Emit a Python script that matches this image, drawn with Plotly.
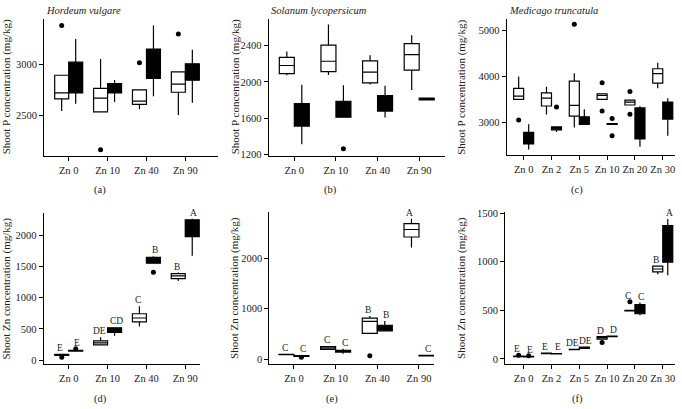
import plotly.graph_objects as go

W, H = 682, 409

CATS_4 = ["Zn 0", "Zn 10", "Zn 40", "Zn 90"]
CATS_6 = ["Zn 0", "Zn 2", "Zn 5", "Zn 10", "Zn 20", "Zn 30"]

# ---------------- Panel (a): Hordeum vulgare, shoot P ----------------
A_WHITE = dict(lo=[2542, 2532, 2558, 2500], q1=[2662, 2532, 2607, 2727],
               med=[2721, 2669, 2640, 2808], q3=[2896, 2766, 2750, 2929],
               hi=[2896, 3058, 2750, 2929])
A_BLACK = dict(lo=[2614, 2630, 2688, 2623], q1=[2721, 2721, 2864, 2847],
               med=[2850, 2770, 3000, 2920], q3=[3026, 2812, 3156, 3010],
               hi=[3256, 2850, 3390, 3150])
A_OUT_W_CAT = ["Zn 0", "Zn 10", "Zn 40", "Zn 90"]
A_OUT_W_VAL = [3390, 2155, 3020, 3305]
A_OUT_B_CAT = []
A_OUT_B_VAL = []

# ---------------- Panel (b): Solanum lycopersicum, shoot P ----------------
B_WHITE = dict(lo=[2072, 2076, 1971, 1910], q1=[2090, 2112, 1989, 2130],
               med=[2180, 2227, 2108, 2299], q3=[2270, 2404, 2231, 2422],
               hi=[2335, 2631, 2292, 2512])
B_BLACK = dict(lo=[1315, 1611, 1607, 1796], q1=[1514, 1611, 1679, 1802],
               med=[1640, 1700, 1760, 1812], q3=[1762, 1787, 1849, 1823],
               hi=[1968, 1964, 1957, 1828])
B_OUT_W_CAT = []
B_OUT_W_VAL = []
B_OUT_B_CAT = ["Zn 10"]
B_OUT_B_VAL = [1265]

# ---------------- Panel (c): Medicago truncatula, shoot P ----------------
C_WHITE = dict(lo=[3498, 3171, 2886, 3498, 3377, 3740], q1=[3498, 3356, 3135, 3498, 3377, 3854],
               med=[3569, 3527, 3370, 3584, 3441, 4061], q3=[3740, 3641, 3897, 3619, 3484, 4167],
               hi=[3997, 3776, 4068, 3619, 3484, 4295])
C_BLACK = dict(lo=[2409, 2790, 2950, 2950, 2466, 2708], q1=[2530, 2836, 2957, 2955, 2637, 3071],
               med=[2650, 2870, 3040, 2965, 2980, 3250], q3=[2780, 2900, 3121, 2975, 3313, 3441],
               hi=[2957, 2910, 3285, 2980, 3349, 3527])
C_OUT_W_CAT = ["Zn 0", "Zn 5", "Zn 10", "Zn 10", "Zn 20", "Zn 20"]
C_OUT_W_VAL = [3050, 5135, 3861, 3249, 3669, 3178]
C_OUT_B_CAT = ["Zn 2", "Zn 10", "Zn 10"]
C_OUT_B_VAL = [3335, 3086, 2708]

# ---------------- Panel (d): Hordeum vulgare, shoot Zn ----------------
D_WHITE = dict(lo=[75, 245, 538, 1264], q1=[75, 245, 611, 1305],
               med=[85, 277, 674, 1347], q3=[92, 308, 742, 1384],
               hi=[95, 366, 862, 1400])
D_BLACK = dict(lo=[140, 392, 1551, 1671], q1=[145, 444, 1551, 1974],
               med=[150, 480, 1600, 2100], q3=[157, 517, 1645, 2245],
               hi=[160, 527, 1660, 2261])
D_OUT_W_CAT = ["Zn 0"]
D_OUT_W_VAL = [45]
D_OUT_B_CAT = ["Zn 0", "Zn 40"]
D_OUT_B_VAL = [183, 1405]
D_LET_W = ["E", "DE", "C", "B"]
D_LET_B = ["E", "CD", "B", "A"]

# ---------------- Panel (e): Solanum lycopersicum, shoot Zn ----------------
E_WHITE = dict(lo=[85, 194, 511, 2213], q1=[88, 194, 511, 2420],
               med=[91, 226, 751, 2569], q3=[95, 252, 815, 2686],
               hi=[98, 252, 854, 2783])
E_BLACK = dict(lo=[50, 110, 563, 65], q1=[55, 142, 563, 68],
               med=[62, 155, 620, 71], q3=[70, 175, 673, 75],
               hi=[75, 207, 757, 78])
E_OUT_W_CAT = ["Zn 40"]
E_OUT_W_VAL = [71]
E_OUT_B_CAT = ["Zn 0"]
E_OUT_B_VAL = [40]
E_LET_W = ["C", "C", "B", "A"]
E_LET_B = ["C", "C", "B", "C"]

# ---------------- Panel (f): Medicago truncatula, shoot Zn ----------------
F_WHITE = dict(lo=[22, 54, 95, 205, 490, 871], q1=[24, 55, 96, 205, 495, 895],
               med=[27, 57, 98, 222, 498, 925], q3=[30, 59, 100, 229, 500, 955],
               hi=[32, 60, 101, 229, 505, 955])
F_BLACK = dict(lo=[21, 51, 104, 229, 450, 861], q1=[22, 52, 108, 230, 465, 995],
               med=[24, 54, 114, 232, 500, 1180], q3=[26, 56, 122, 234, 560, 1372],
               hi=[28, 57, 124, 236, 580, 1439])
F_OUT_W_CAT = ["Zn 0", "Zn 10", "Zn 20"]
F_OUT_W_VAL = [37, 168, 588]
F_OUT_B_CAT = ["Zn 0"]
F_OUT_B_VAL = [34]
F_LET_W = ["E", "E", "DE", "D", "C", "B"]
F_LET_B = ["E", "E", "DE", "D", "C", "A"]

P_TITLE = "Shoot P concentration (mg/kg)"
ZN_TITLE = "Shoot Zn concentration (mg/kg)"

# ---------------- layout geometry (pixels) ----------------
PANELS = [
    dict(tag="(a)", species="Hordeum vulgare", cats=CATS_4, white=A_WHITE, black=A_BLACK,
         ow=(A_OUT_W_CAT, A_OUT_W_VAL), ob=(A_OUT_B_CAT, A_OUT_B_VAL), lw=None, lb=None,
         ytitle=P_TITLE, px=(44, 218), py=(15, 155), xr=(-0.635, 3.84), yr=(2094, 3458), dt=500,
         ytx=6, tagx=100, tagy=190),
    dict(tag="(b)", species="Solanum lycopersicum", cats=CATS_4, white=B_WHITE, black=B_BLACK,
         ow=(B_OUT_W_CAT, B_OUT_W_VAL), ob=(B_OUT_B_CAT, B_OUT_B_VAL), lw=None, lb=None,
         ytitle=P_TITLE, px=(268.5, 445), py=(15, 155), xr=(-0.62, 3.62), yr=(1185, 2695), dt=400,
         ytx=235, tagx=330, tagy=190),
    dict(tag="(c)", species="Medicago truncatula", cats=CATS_6, white=C_WHITE, black=C_BLACK,
         ow=(C_OUT_W_CAT, C_OUT_W_VAL), ob=(C_OUT_B_CAT, C_OUT_B_VAL), lw=None, lb=None,
         ytitle=P_TITLE, px=(506.7, 675), py=(15, 154), xr=(-0.61, 5.44), yr=(2289, 5256), dt=1000,
         ytx=462, tagx=577, tagy=190),
    dict(tag="(d)", species=None, cats=CATS_4, white=D_WHITE, black=D_BLACK,
         ow=(D_OUT_W_CAT, D_OUT_W_VAL), ob=(D_OUT_B_CAT, D_OUT_B_VAL), lw=D_LET_W, lb=D_LET_B,
         ytitle=ZN_TITLE, px=(43.5, 200), py=(213, 367.3), xr=(-0.65, 3.38), yr=(-63, 2356), dt=500,
         ytx=6, tagx=100, tagy=403),
    dict(tag="(e)", species=None, cats=CATS_4, white=E_WHITE, black=E_BLACK,
         ow=(E_OUT_W_CAT, E_OUT_W_VAL), ob=(E_OUT_B_CAT, E_OUT_B_VAL), lw=E_LET_W, lb=E_LET_B,
         ytitle=ZN_TITLE, px=(269.3, 434), py=(212, 367.3), xr=(-0.59, 3.36), yr=(-97, 2918), dt=1000,
         ytx=235, tagx=332, tagy=403),
    dict(tag="(f)", species=None, cats=CATS_6, white=F_WHITE, black=F_BLACK,
         ow=(F_OUT_W_CAT, F_OUT_W_VAL), ob=(F_OUT_B_CAT, F_OUT_B_VAL), lw=F_LET_W, lb=F_LET_B,
         ytitle=ZN_TITLE, px=(505, 675), py=(212, 367.3), xr=(-0.67, 5.44), yr=(-53, 1513), dt=500,
         ytx=462, tagx=577, tagy=403),
]

FONT = "Liberation Serif"
OFF = 0.18
BW = 0.36

fig = go.Figure()
annotations = []
layout = {}

for i, p in enumerate(PANELS):
    n = i + 1
    xa = "x" if n == 1 else f"x{n}"
    ya = "y" if n == 1 else f"y{n}"
    cats = p["cats"]
    idx = list(range(len(cats)))
    for series, off, fill in ((p["white"], -OFF, "white"), (p["black"], OFF, "black")):
        fig.add_trace(go.Box(
            x=[k + off for k in idx], q1=series["q1"], median=series["med"], q3=series["q3"],
            lowerfence=series["lo"], upperfence=series["hi"], width=BW,
            fillcolor=fill, line=dict(color="black", width=1.2), whiskerwidth=0,
            boxpoints=False, showlegend=False, xaxis=xa, yaxis=ya, hoverinfo="skip"))
    for (ocats, ovals), off in ((p["ow"], -OFF), (p["ob"], OFF)):
        if ocats:
            fig.add_trace(go.Scatter(
                x=[cats.index(c) + off for c in ocats], y=ovals, mode="markers",
                marker=dict(color="black", size=5), showlegend=False,
                xaxis=xa, yaxis=ya, hoverinfo="skip"))
    # significance letters
    for letters, series, ocs, off, xs in ((p["lw"], p["white"], p["ow"], -OFF, -1.5),
                                          (p["lb"], p["black"], p["ob"], OFF, 1.5)):
        if not letters:
            continue
        for k, L in enumerate(letters):
            top = series["hi"][k]
            for c, v in zip(*ocs):
                if cats.index(c) == k:
                    top = max(top, v)
            annotations.append(dict(x=k + off, y=top, xref=xa, yref=ya, text=L,
                                    showarrow=False, yanchor="bottom", yshift=0, xshift=xs,
                                    borderpad=0,
                                    font=dict(family=FONT, size=9.5, color="#222")))
    axis_common = dict(showline=True, linecolor="black", linewidth=1, ticks="outside",
                       ticklen=4, tickcolor="black", showgrid=False, zeroline=False,
                       tickfont=dict(family=FONT, size=10.5, color="#222"))
    layout["xaxis" if n == 1 else f"xaxis{n}"] = dict(
        domain=[p["px"][0] / W, p["px"][1] / W], range=list(p["xr"]), anchor=ya,
        tickmode="array", tickvals=idx, ticktext=cats, **axis_common)
    layout["yaxis" if n == 1 else f"yaxis{n}"] = dict(
        domain=[(H - p["py"][1]) / H, (H - p["py"][0]) / H], range=list(p["yr"]), anchor=xa,
        tick0=0, dtick=p["dt"], **axis_common)
    # y-axis title
    annotations.append(dict(x=p["ytx"] / W, y=(H - (p["py"][0] + p["py"][1]) / 2) / H,
                            xref="paper", yref="paper", text=p["ytitle"], textangle=-90,
                            showarrow=False, xanchor="center", yanchor="middle",
                            font=dict(family=FONT, size=11, color="#222")))
    # panel tag
    annotations.append(dict(x=p["tagx"] / W, y=(H - p["tagy"]) / H, xref="paper", yref="paper",
                            text=p["tag"], showarrow=False, xanchor="center", yanchor="middle",
                            font=dict(family=FONT, size=10.5, color="#222")))
    if p["species"]:
        annotations.append(dict(x=p["px"][0] / W, y=(H - 7) / H, xref="paper", yref="paper",
                                text=f"<i>{p['species']}</i>", showarrow=False,
                                xanchor="left", yanchor="middle",
                                font=dict(family=FONT, size=10.5, color="#222")))

fig.update_layout(
    width=W, height=H, margin=dict(l=0, r=0, t=0, b=0),
    paper_bgcolor="white", plot_bgcolor="white", boxmode="overlay",
    font=dict(family=FONT, size=10.5, color="#222"),
    annotations=annotations, **layout)

fig.write_html("out.html", config={"displayModeBar": False},
               post_script="document.body.style.margin='0';document.body.style.overflow='hidden';")
